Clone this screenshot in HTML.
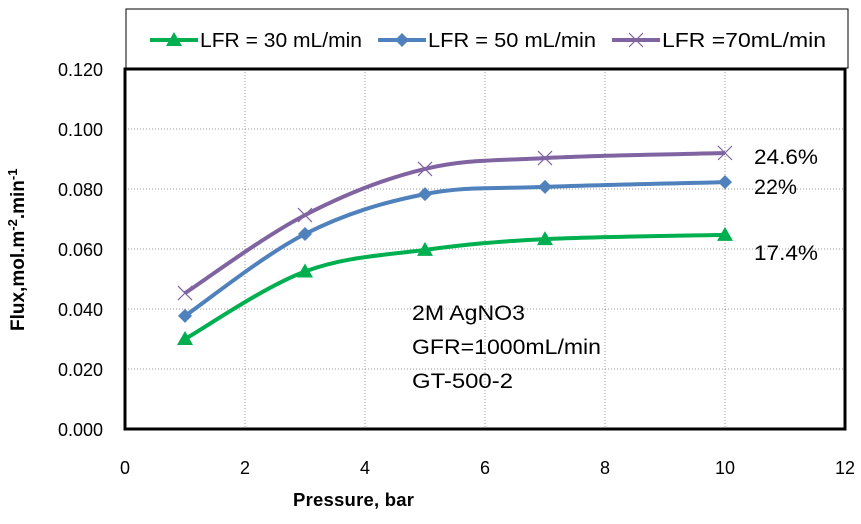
<!DOCTYPE html>
<html><head><meta charset="utf-8"><style>
body{margin:0;background:#fff}
svg text{font-family:"Liberation Sans",sans-serif}
</style></head><body>
<svg width="861" height="519" xmlns="http://www.w3.org/2000/svg">
<rect x="0" y="0" width="861" height="519" fill="#fff"/>
<g id="grid"></g>
<g id="axes"></g>
<g id="series"></g>
<rect x="126" y="9" width="722" height="59" fill="#fff" stroke="#000" stroke-width="1"/>
<g id="legend"></g>
<text x="293" y="506" font-size="18.5" font-weight="bold" textLength="121">Pressure, bar</text>
<text transform="translate(24,331) rotate(-90)" font-size="19" font-weight="bold">Flux,mol.m<tspan dy="-7" font-size="13">-2</tspan><tspan dy="7">.min</tspan><tspan dy="-7" font-size="13">-1</tspan></text>
<g font-size="21" fill="#000">
<text x="412" y="320" textLength="113" lengthAdjust="spacingAndGlyphs">2M AgNO3</text>
<text x="412" y="354" textLength="189" lengthAdjust="spacingAndGlyphs">GFR=1000mL/min</text>
<text x="412" y="388" textLength="101" lengthAdjust="spacingAndGlyphs">GT-500-2</text>
</g>
<text x="754" y="164" font-size="21" textLength="64" lengthAdjust="spacingAndGlyphs">24.6%</text>
<text x="754" y="194" font-size="21" textLength="43" lengthAdjust="spacingAndGlyphs">22%</text>
<text x="754" y="260" font-size="21" textLength="64" lengthAdjust="spacingAndGlyphs">17.4%</text>
</svg>
<script>
const xTicks=[0,2,4,6,8,10,12];
const yTicks=[0,0.02,0.04,0.06,0.08,0.1,0.12];
const yTickLabels=["0.000","0.020","0.040","0.060","0.080","0.100","0.120"];
const pressures=[1,3,5,7,10];
const lfr30=[0.030,0.0525,0.0597,0.0633,0.0647];
const lfr50=[0.0377,0.065,0.0783,0.0807,0.0823];
const lfr70=[0.0453,0.0713,0.0867,0.0903,0.092];
const seriesNames=["LFR = 30 mL/min","LFR = 50 mL/min","LFR =70mL/min"];
const X0=125,PX=60,Y0=429,PY=3000;
const sx=v=>X0+v*PX, sy=v=>Y0-v*PY;
const NS="http://www.w3.org/2000/svg";
function mk(t,a,p){const e=document.createElementNS(NS,t);for(const k in a)e.setAttribute(k,a[k]);p.appendChild(e);return e;}
const grid=document.getElementById('grid'),axes=document.getElementById('axes'),ser=document.getElementById('series'),leg=document.getElementById('legend');
xTicks.forEach(v=>{if(v>0&&v<12){const l=mk('line',{x1:sx(v),x2:sx(v),y1:sy(0.12),y2:Y0,stroke:'#999','stroke-dasharray':'1,2'},grid);}
 const t=mk('text',{x:sx(v),y:474,'font-size':18,'text-anchor':'middle'},axes);t.textContent=v;});
yTicks.forEach((v,i)=>{if(v>0&&v<0.12){const l=mk('line',{x1:X0,x2:sx(12),y1:sy(v),y2:sy(v),stroke:'#999','stroke-dasharray':'1,2'},grid);}
 const t=mk('text',{x:103,y:sy(v)+7,'font-size':18,'text-anchor':'end'},axes);t.textContent=yTickLabels[i];});
const fr=mk('rect',{x:X0,y:sy(0.12),width:sx(12)-X0,height:Y0-sy(0.12),fill:'none',stroke:'#000','stroke-width':3},axes);

function smooth(pts){let d=`M${pts[0][0]},${pts[0][1]}`;for(let i=0;i<pts.length-1;i++){const p0=pts[i-1]||pts[i],p1=pts[i],p2=pts[i+1],p3=pts[i+2]||p2;const t=0.17;
 d+=` C${p1[0]+(p2[0]-p0[0])*t},${p1[1]+(p2[1]-p0[1])*t} ${p2[0]-(p3[0]-p1[0])*t},${p2[1]-(p3[1]-p1[1])*t} ${p2[0]},${p2[1]}`;}return d;}
function marker(type,x,y,c,g){
 if(type==='tri')return mk('path',{d:`M${x},${y-8} L${x+8},${y+6} L${x-8},${y+6}Z`,fill:c},g);
 if(type==='dia')return mk('path',{d:`M${x},${y-7} L${x+7},${y} L${x},${y+7} L${x-7},${y}Z`,fill:c},g);
 return mk('path',{d:`M${x-7},${y-7} L${x+7},${y+7} M${x+7},${y-7} L${x-7},${y+7}`,stroke:c,'stroke-width':1.2,fill:'none'},g);}
const defs=[[lfr30,'#00b050','tri','series-lfr30'],[lfr50,'#4f81bd','dia','series-lfr50'],[lfr70,'#8064a2','x','series-lfr70']];
defs.forEach(([vals,c,m,name])=>{const g=mk('g',{},ser);
 const pts=pressures.map((p,i)=>[sx(p),sy(vals[i])]);
 const pa=mk('path',{d:smooth(pts),fill:'none',stroke:c,'stroke-width':4},g);
 pts.forEach(p=>{const e=marker(m,p[0],p[1],c,g);});});
const lx=[150,378,612];
const lw=[162,168,164];
defs.forEach(([v,c,m,name],i)=>{const g=mk('g',{},leg);
 mk('line',{x1:lx[i],x2:lx[i]+48,y1:40,y2:40,stroke:c,'stroke-width':4},g);marker(m,lx[i]+24,40,c,g);
 const t=mk('text',{x:lx[i]+50,y:47,'font-size':20,textLength:lw[i],lengthAdjust:'spacingAndGlyphs'},g);t.textContent=seriesNames[i];});
</script>
</body></html>
